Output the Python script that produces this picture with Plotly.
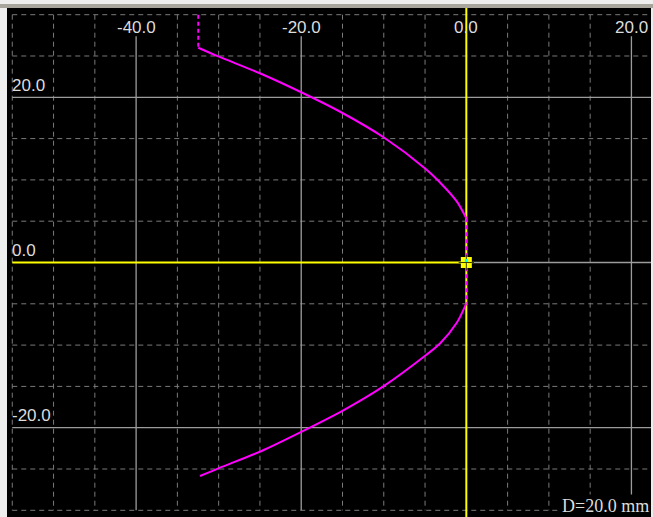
import plotly.graph_objects as go

# ---- data ----
major_ticks = [-40, -20, 0, 20]            # labelled positions (x)
major_ticks_y = [20, 0, -20]                # labelled positions (y)
solid_x = [-40, -20, 20]
solid_y = [20, -20]
dash_x = [-55, -50, -45, -35, -30, -25, -15, -10, -5, 5, 10, 15]
dash_y = [30, 25, 15, 10, 5, -5, -10, -15, -25, -30]

upper_x = [-32.47, -30.04, -24.87, -19.87, -15.28, -9.93, -4.88, -3.39, -1.16, 0.0]
upper_y = [26.0, 24.95, 22.85, 20.55, 18.25, 15.1, 11.3, 9.9, 7.4, 5.35]
lower_x = [0.0, -1.16, -3.19, -4.88, -10.05, -14.90, -19.87, -24.87, -30.04, -32.26]
lower_y = [-4.94, -7.3, -9.8, -11.2, -15.0, -17.9, -20.45, -22.85, -24.92, -25.85]
top_stub_x = [-32.47, -32.47]
top_stub_y = [30.0, 26.0]
mid_x = [0.0, 0.0]
mid_y = [5.35, -4.94]
origin_x = [0.0]
origin_y = [0.0]
scale_label = "D=20.0 mm"

X_RANGE = [-55.64, 22.37]
Y_RANGE = [-30.81, 30.81]

W, H = 653, 517
ML, MR, MT, MB = 7, 2, 8, 0

fig = go.Figure()

shapes = []
DASH_COL = "#7a7a7a"
SOLID_COL = "#9c9c9c"
for v in dash_x:
    shapes.append(dict(type="line", xref="x", yref="y", x0=v, x1=v, y0=30, y1=-30,
                       line=dict(color=DASH_COL, width=1, dash="5px,4px"), layer="below"))
for v in dash_y:
    shapes.append(dict(type="line", xref="x", yref="y", x0=-55, x1=X_RANGE[1], y0=v, y1=v,
                       line=dict(color=DASH_COL, width=1, dash="5px,4px"), layer="below"))
for v in solid_x:
    shapes.append(dict(type="line", xref="x", yref="y", x0=v, x1=v, y0=27.4, y1=-30,
                       line=dict(color=SOLID_COL, width=1.3), layer="below"))
for v in solid_y:
    shapes.append(dict(type="line", xref="x", yref="y", x0=-55, x1=X_RANGE[1], y0=v, y1=v,
                       line=dict(color=SOLID_COL, width=1.3), layer="below"))
# zero axes
shapes.append(dict(type="line", xref="x", yref="y", x0=0, x1=X_RANGE[1], y0=0, y1=0,
                   line=dict(color=SOLID_COL, width=1.5), layer="below"))
shapes.append(dict(type="line", xref="x", yref="y", x0=-55, x1=0, y0=0, y1=0,
                   line=dict(color="#ffff00", width=2), layer="below"))
shapes.append(dict(type="line", xref="x", yref="y", x0=0, x1=0, y0=Y_RANGE[0], y1=Y_RANGE[1],
                   line=dict(color="#ffff00", width=2), layer="below"))
# window frame
shapes.append(dict(type="rect", xref="paper", yref="paper", x0=-ML / (W - ML - MR), x1=1 + MR / (W - ML - MR),
                   y0=1.0, y1=1 + 4 / (H - MT - MB), line=dict(width=0), fillcolor="#a8a59c", layer="below"))

MAG = "#ff00ff"
fig.add_trace(go.Scatter(x=upper_x, y=upper_y, mode="lines",
                         line=dict(color=MAG, width=2, shape="spline", smoothing=0.8), hoverinfo="skip"))
fig.add_trace(go.Scatter(x=lower_x, y=lower_y, mode="lines",
                         line=dict(color=MAG, width=2, shape="spline", smoothing=0.8), hoverinfo="skip"))
fig.add_trace(go.Scatter(x=top_stub_x, y=top_stub_y, mode="lines", line=dict(color=MAG, width=2, dash="4px,3px"),
                         hoverinfo="skip"))
fig.add_trace(go.Scatter(x=mid_x, y=mid_y, mode="lines", line=dict(color=MAG, width=2, dash="4px,3px"),
                         hoverinfo="skip"))
fig.add_trace(go.Scatter(x=origin_x, y=origin_y, mode="markers",
                         marker=dict(symbol="square", size=11, color="#ffff00", line=dict(width=0)),
                         hoverinfo="skip"))
fig.add_trace(go.Scatter(x=origin_x, y=origin_y, mode="markers",
                         marker=dict(symbol="cross-thin", size=11, line=dict(color="#404000", width=1)),
                         hoverinfo="skip"))
fig.add_trace(go.Scatter(x=origin_x, y=[0.25], mode="markers",
                         marker=dict(symbol="square", size=3, color="#00ffff", line=dict(width=0)),
                         hoverinfo="skip"))

annotations = []
LAB_COL = "#dcdcdc"
for v in major_ticks:
    annotations.append(dict(x=v, y=28.5, xref="x", yref="y", text=f"{v:.1f}", showarrow=False,
                            xanchor="center", yanchor="middle",
                            font=dict(family="Liberation Sans, Arial, sans-serif", size=17, color=LAB_COL)))
for v in major_ticks_y:
    annotations.append(dict(x=-55, y=v, xref="x", yref="y", text=f"{v:.1f}", showarrow=False,
                            xanchor="left", yanchor="middle", xshift=-2, yshift=12,
                            font=dict(family="Liberation Sans, Arial, sans-serif", size=17, color=LAB_COL)))
annotations.append(dict(x=1, y=(H - MT - 498) / (H - MT), xref="paper", yref="paper",
                        text=scale_label, showarrow=False, xanchor="right", yanchor="middle",
                        bgcolor="#000000", borderpad=1,
                        font=dict(family="Liberation Serif, Times New Roman, serif", size=18, color=LAB_COL)))

fig.update_layout(
    width=W, height=H,
    margin=dict(l=ML, r=MR, t=MT, b=MB, pad=0),
    paper_bgcolor="#eeeeee",
    plot_bgcolor="#000000",
    showlegend=False,
    shapes=shapes,
    annotations=annotations,
    xaxis=dict(range=X_RANGE, showgrid=False, zeroline=False, showticklabels=False, ticks="",
               showline=False, fixedrange=True),
    yaxis=dict(range=Y_RANGE, showgrid=False, zeroline=False, showticklabels=False, ticks="",
               showline=False, fixedrange=True),
)

fig.write_html("out.html", config={"displayModeBar": False},
               post_script="document.body.style.margin='0';document.body.style.overflow='hidden';")
